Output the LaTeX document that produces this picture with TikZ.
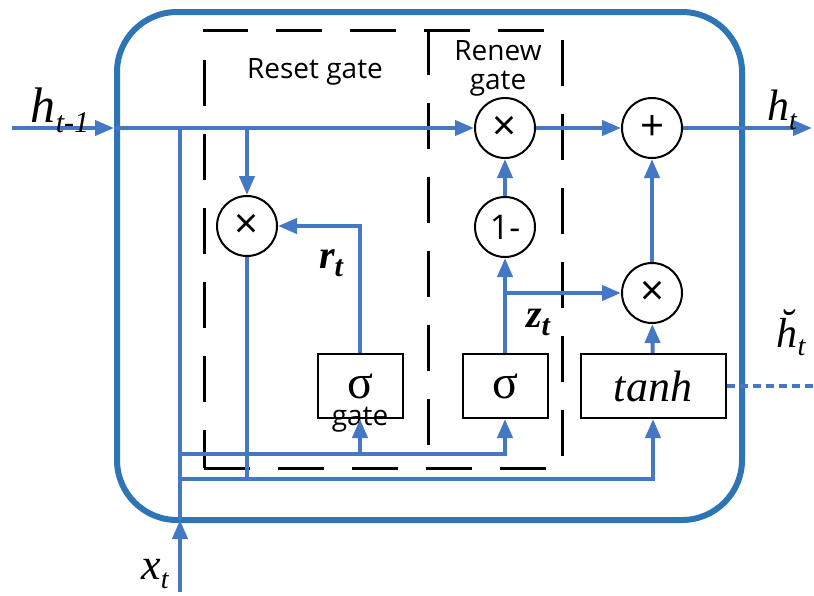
\documentclass[tikz,border=0pt]{standalone}
\usepackage{fontspec}
\setmainfont{Liberation Serif}
\newfontfamily\fontsans{Open Sans}
\usetikzlibrary{positioning,arrows.meta}
\definecolor{albastru}{RGB}{46,117,182}
\definecolor{albfir}{RGB}{68,120,196}
\newcommand{\marime}[1]{\fontsize{#1}{#1}\selectfont}
\newcommand{\varind}[4]{{\marime{#1}\itshape #2\raisebox{-0.2em}{\marime{#3}#4}}}
\tikzset{
  chenar/.style   = {draw=albastru, line width=6pt, rounded corners=60pt,
                     minimum width=625, minimum height=508, inner sep=0pt},
  grup/.style     = {draw, line width=3pt, dash pattern=on 46pt off 28pt,
                     minimum width=358, minimum height=438, inner sep=0pt},
  desparte/.style = {line width=3pt, dash pattern=on 46pt off 28pt},
  cerc/.style     = {draw, circle, line width=2pt, minimum size=60, inner sep=0pt,
                     font=\fontsans\marime{42}},
  bloc/.style     = {draw, line width=2pt, minimum height=64, inner sep=0pt,
                     font=\marime{48}},
  titlu/.style    = {font=\fontsans\marime{28}, align=center, inner sep=0pt},
  eticheta/.style = {inner sep=0pt},
  fir/.style      = {draw=albfir, line width=4pt},
  sageata/.style  = {fir, -{Triangle[length=19pt,width=15pt]}},
  punctat/.style  = {fir, dash pattern=on 8pt off 5pt}
}
\begin{document}
\begin{tikzpicture}[x=1pt,y=-1pt]
    \useasboundingbox (0,0) rectangle (814,595);
    % cell and gate frames
    \node[chenar] (celula) at (429.5,266) {};
    \node[grup] (porti) at (383,249) {};
    \draw[desparte] (porti.north -| 428,0) -- (porti.south -| 428,0);
    \node[titlu] (treset) at (315,72) {Reset gate};
    \node[titlu] (trenew) at (498,68) {Renew\\[1pt] gate};

    % operations
    \node[cerc] (mulr) at (247,226) {×};
    \node[cerc] (mulz) at (505,128) {×};
    \node[cerc, font=\fontsans\marime{34}] (unu) at (505,227) {1-};
    \node[cerc] (plus) at (652,128) {+};
    \node[cerc] (mulh) at (652,293) {×};
    \node[bloc, minimum width=85] (sigr) at (360,386) {σ};
    \node[bloc, minimum width=85] (sigz) at (505,386) {σ};
    \node[bloc, minimum width=145, font=\marime{44}\itshape] (tanh) at (653,386) {tanh};
    \node[titlu] (tgate) at (360,420) {gate};

    % free ends
    \coordinate (hin) at (12,128);
    \coordinate (hb) at (celula.west |- mulz);
    \coordinate (hout) at (812,128);
    \coordinate (xin) at (180,592);
    \coordinate (xb) at (180,520);
    \coordinate (j1) at (180,454);
    \coordinate (j2) at (180,479);
    \coordinate (hcap) at (814,386);

    \draw[sageata] (hin) -- (hb);
    \draw[sageata] (hb) -- (mulz);
    \draw[sageata] (xin) -- (xb);
    \draw[fir] (xb) -- (xb |- hb);
    \draw[sageata] (mulr |- hb) -- (mulr);
    \draw[fir] (mulr) -- (mulr |- j2);
    \draw[sageata] (j1) -| (sigz);
    \draw[sageata] (j1 -| sigr) -- (sigr);
    \draw[sageata] (j2) -| (tanh);
    \draw[sageata] (sigr) |- (mulr);
    \draw[sageata] (sigz) -- (unu);
    \draw[sageata] (unu) -- (mulz);
    \draw[sageata] (sigz |- mulh) -- (mulh);
    \draw[sageata] (tanh) -- (mulh);
    \draw[sageata] (mulh) -- (plus);
    \draw[sageata] (mulz) -- (plus);
    \draw[sageata] (plus) -- (hout);
    \draw[punctat] (tanh) -- (hcap);

    % labels
    \node[eticheta] (lhprev) at (60,110) {\varind{50}{h}{30}{t-1}};
    \node[eticheta] (lhnext) at (782,110) {\varind{44}{h}{28}{t}};
    \node[eticheta] (lxt) at (155,574) {\varind{44}{x}{28}{t}};
    \node[eticheta] (lrt) at (331,263) {\bfseries\varind{40}{r}{30}{t}};
    \node[eticheta] (lzt) at (538,322) {\bfseries\varind{40}{z}{30}{t}};
    \node[eticheta] (lhcap) at (791,333) {\varind{42}{\u{h}}{28}{t}};
\end{tikzpicture}
\end{document}
